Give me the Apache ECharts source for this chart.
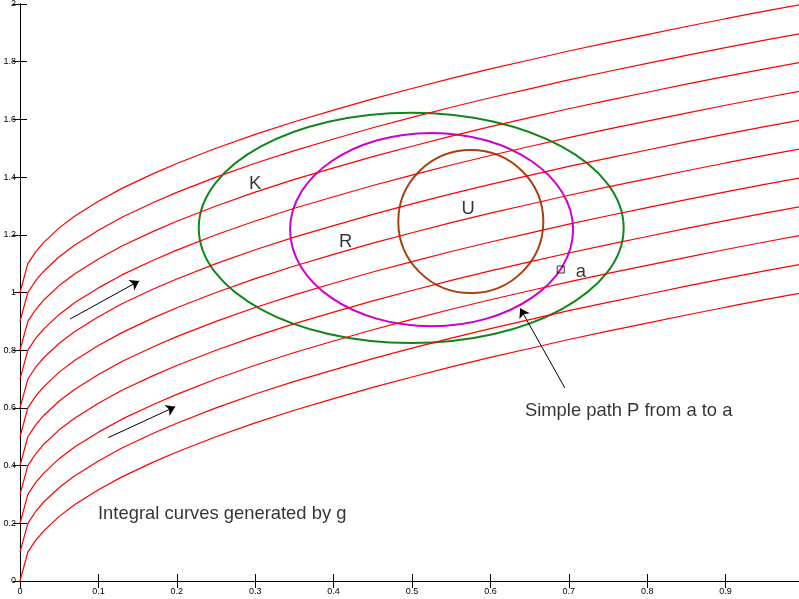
<!DOCTYPE html>
<html>
<head>
<meta charset="utf-8">
<script src="https://cdn.jsdelivr.net/npm/echarts@6/dist/echarts.min.js"></script>
<style>
  html, body { margin: 0; padding: 0; background: #fff; }
  #main { width: 799px; height: 599px; }
</style>
</head>
<body>
<div id="main"></div>
<script>
  // integral curve profile, the others are the same shape shifted up
  var profileX = [0, 0.01, 0.02, 0.03, 0.05, 0.07, 0.1, 0.13, 0.17, 0.2, 0.25, 0.3, 0.35, 0.4, 0.45, 0.5, 0.55, 0.6, 0.65, 0.7, 0.75, 0.8, 0.85, 0.9, 0.95, 1.0];
  var profileY = [0, 0.10, 0.141, 0.173, 0.224, 0.265, 0.316, 0.361, 0.412, 0.447, 0.5, 0.548, 0.592, 0.632, 0.671, 0.707, 0.742, 0.775, 0.806, 0.837, 0.866, 0.894, 0.922, 0.949, 0.975, 1.0];
  var curveStarts = [0, 0.1, 0.2, 0.3, 0.4, 0.5, 0.6, 0.7, 0.8, 0.9, 1.0];

  // sets K, R, U as ellipses: centre and half axes in data units
  var setNames = ['K', 'R', 'U'];
  var setCx = [0.499, 0.525, 0.575];
  var setCy = [1.224, 1.218, 1.246];
  var setRx = [0.271, 0.1805, 0.0925];
  var setRy = [0.399, 0.335, 0.248];
  var setColors = ['#11861a', '#cc00cc', '#a8420c'];

  // arrows [x0, y0, x1, y1]
  var arrows = [
    [0.0638, 0.908, 0.152, 1.040],
    [0.1126, 0.497, 0.198, 0.604],
    [0.695, 0.669, 0.638, 0.945]
  ];

  var pointA = [0.6897, 1.0797];

  var labels = [
    [0.292, 1.376, 'K'],
    [0.407, 1.175, 'R'],
    [0.563, 1.289, 'U'],
    [0.709, 1.072, 'a'],
    [0.644, 0.589, 'Simple path P from a to a'],
    [0.0995, 0.232, 'Integral curves generated by g']
  ];

  var xTicks = { min: 0, max: 1, interval: 0.1 };
  var yTicks = { min: 0, max: 2, interval: 0.2 };

  var myChart = echarts.init(document.getElementById('main'));

  var series = [];
  curveStarts.forEach(function (c) {
    series.push({
      type: 'line',
      data: profileX.map(function (x, i) { return [x, c + profileY[i]]; }),
      showSymbol: false,
      symbol: 'none',
      lineStyle: { color: '#ff0000', width: 1.2 },
      silent: true
    });
  });

  series.push({
    type: 'custom',
    data: setNames.map(function (n, i) { return [setCx[i], setCy[i], setRx[i], setRy[i]]; }),
    encode: { x: 0, y: 1 },
    silent: true,
    renderItem: function (params, api) {
      var c = api.coord([api.value(0), api.value(1)]);
      var s = api.size([api.value(2), api.value(3)]);
      return {
        type: 'ellipse',
        shape: { cx: c[0], cy: c[1], rx: s[0], ry: s[1] },
        style: { fill: 'none', stroke: setColors[params.dataIndex], lineWidth: 2 }
      };
    }
  });

  series.push({
    type: 'lines',
    coordinateSystem: 'cartesian2d',
    silent: true,
    symbol: ['none', 'arrow'],
    symbolSize: 9,
    lineStyle: { color: '#000', width: 1, opacity: 1 },
    data: arrows.map(function (a) { return { coords: [[a[0], a[1]], [a[2], a[3]]] }; })
  });

  series.push({
    type: 'scatter',
    silent: true,
    symbol: 'rect',
    symbolSize: 7,
    itemStyle: { color: 'rgba(0,0,0,0)', borderColor: '#000', borderWidth: 1 },
    data: [pointA]
  });

  series.push({
    type: 'scatter',
    silent: true,
    symbolSize: 0,
    data: labels,
    label: {
      show: true,
      position: 'right',
      distance: 0,
      formatter: function (p) { return p.value[2]; },
      color: '#000',
      fontFamily: 'Liberation Sans, Arial, sans-serif',
      fontSize: 18.4
    }
  });

  var axisCommon = {
    type: 'value',
    axisLine: { show: true, lineStyle: { color: '#000', width: 1 } },
    axisTick: { show: true, inside: true, length: 7, lineStyle: { color: '#000' } },
    splitLine: { show: false }
  };

  myChart.setOption({
    animation: false,
    grid: { left: 20, top: 4, width: 784, height: 577, containLabel: false, outerBoundsMode: 'none' },
    xAxis: [
      Object.assign({}, axisCommon, xTicks, {
        position: 'bottom',
        axisLabel: { fontSize: 9, color: '#000', margin: 6, fontFamily: 'Liberation Sans, Arial, sans-serif' }
      }),
      Object.assign({}, axisCommon, xTicks, { position: 'top', axisLabel: { show: false } })
    ],
    yAxis: [
      Object.assign({}, axisCommon, yTicks, {
        position: 'left',
        axisLabel: { fontSize: 9, color: '#000', margin: 4, fontFamily: 'Liberation Sans, Arial, sans-serif' }
      }),
      Object.assign({}, axisCommon, yTicks, { position: 'right', axisLabel: { show: false } })
    ],
    series: series
  });
</script>
</body>
</html>
